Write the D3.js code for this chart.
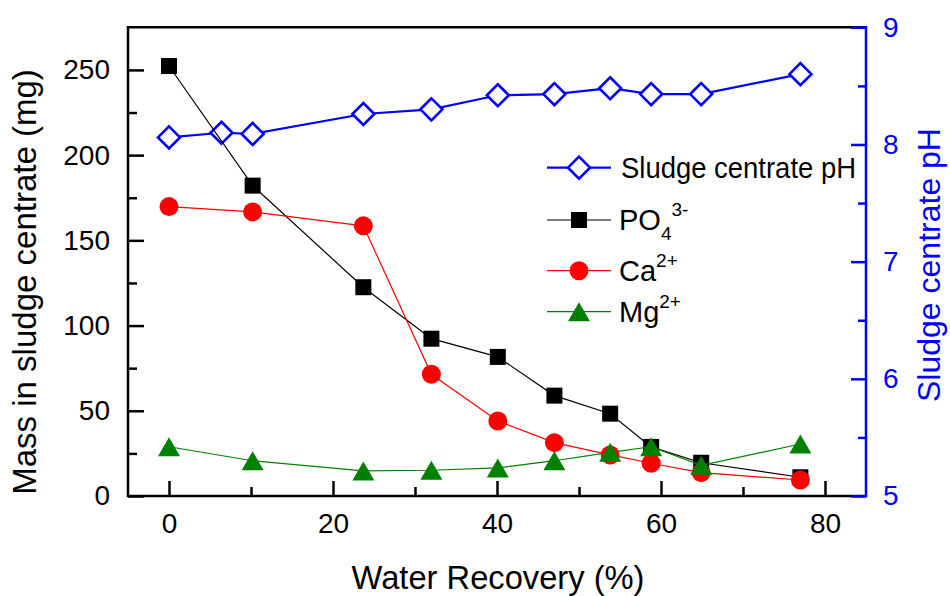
<!DOCTYPE html>
<html>
<head>
<meta charset="utf-8">
<script src="https://cdn.jsdelivr.net/npm/d3@7"></script>
<style>
  body { margin: 0; background: #fff; }
  svg text { font-family: "Liberation Sans", Arial, sans-serif; }
</style>
</head>
<body>
<svg width="950" height="596"></svg>
<script>
// water recovery (%) for the ion samples
var recovery = [0, 10.2, 23.7, 32.0, 40.1, 47.0, 53.8, 58.8, 64.9, 77.0];
var phosphate = [252.3, 182.1, 122.5, 92.3, 81.6, 58.9, 48.3, 28.8, 19.5, 11.0];
var calcium = [169.8, 166.7, 158.5, 71.4, 44.0, 31.3, 24.1, 19.2, 13.7, 9.4];
var magnesium = [28.9, 20.7, 14.7, 15.1, 16.5, 20.7, 25.6, 28.9, 18.0, 30.5];

// pH has one extra sample
var phRecovery = [0, 6.4, 10.2, 23.7, 32.0, 40.1, 47.0, 53.8, 58.8, 64.9, 77.0];
var phValues = [8.06, 8.10, 8.09, 8.26, 8.30, 8.42, 8.43, 8.48, 8.43, 8.43, 8.60];

var xTicks = [0, 20, 40, 60, 80],
  xMinor = [10, 30, 50, 70],
  yTicks = [0, 50, 100, 150, 200, 250],
  yMinor = [25, 75, 125, 175, 225],
  phTicks = [5, 6, 7, 8, 9],
  phMinor = [5.5, 6.5, 7.5, 8.5];

var svg = d3.select("svg"),
  pLeft = 128, pRight = 866, pTop = 27.3, pBottom = 496;

var x = d3.scaleLinear().domain([-5, 85]).range([pLeft, pRight]);
var y = d3.scaleLinear().domain([0, 275]).range([pBottom, pTop]);
var yPh = d3.scaleLinear().domain([5, 9]).range([pBottom, pTop]);

var BLUE = "#0000ff", RED = "#ff0000", GREEN = "#008000";

function marker(g, type, cx, cy) {
  if (type == "square") {
    g.append("rect").attr("x", cx - 8).attr("y", cy - 8)
      .attr("width", 16).attr("height", 16).attr("fill", "#000");
  } else if (type == "circle") {
    g.append("circle").attr("cx", cx).attr("cy", cy).attr("r", 9.5).attr("fill", RED);
  } else if (type == "triangle") {
    g.append("path")
      .attr("d", "M" + cx + "," + (cy - 9.5) + "L" + (cx + 11) + "," + (cy + 9.5) + "L" + (cx - 11) + "," + (cy + 9.5) + "Z")
      .attr("fill", GREEN);
  } else {
    g.append("path")
      .attr("d", "M" + cx + "," + (cy - 11) + "L" + (cx + 11) + "," + cy + "L" + cx + "," + (cy + 11) + "L" + (cx - 11) + "," + cy + "Z")
      .attr("fill", "#fff").attr("stroke", BLUE).attr("stroke-width", 2.6);
  }
}

function series(xs, ys, yScale, color, width, type) {
  var g = svg.append("g");
  var line = d3.line()
    .x(function(d, i) { return x(xs[i]); })
    .y(function(d) { return yScale(d); });
  g.append("path").datum(ys)
    .attr("d", line)
    .attr("fill", "none")
    .attr("stroke", color)
    .attr("stroke-width", width);
  ys.forEach(function(v, i) {
    marker(g, type, x(xs[i]), yScale(v));
  });
}

// axes
function styleAxis(g, color) {
  g.select(".domain").remove();
  g.selectAll("line").attr("stroke", color).attr("stroke-width", 2.5);
  g.selectAll("text").attr("fill", color).attr("font-size", 28);
}

var gx = svg.append("g").attr("transform", "translate(0," + pBottom + ")")
  .call(d3.axisBottom(x).tickValues(xTicks).tickSizeInner(-15).tickSizeOuter(0).tickPadding(17));
styleAxis(gx, "#000");
var gxm = svg.append("g").attr("transform", "translate(0," + pBottom + ")")
  .call(d3.axisBottom(x).tickValues(xMinor).tickSizeInner(-9).tickSizeOuter(0).tickFormat(""));
styleAxis(gxm, "#000");

var gy = svg.append("g").attr("transform", "translate(" + pLeft + ",0)")
  .call(d3.axisLeft(y).tickValues(yTicks).tickSizeInner(-16).tickSizeOuter(0).tickPadding(18));
styleAxis(gy, "#000");
var gym = svg.append("g").attr("transform", "translate(" + pLeft + ",0)")
  .call(d3.axisLeft(y).tickValues(yMinor).tickSizeInner(-9).tickSizeOuter(0).tickFormat(""));
styleAxis(gym, "#000");

// frame
svg.append("path")
  .attr("d", "M" + pLeft + "," + pTop + "H" + pRight + "M" + pLeft + "," + pBottom + "H" + pRight + "M" + pLeft + "," + (pTop - 1.2) + "V" + (pBottom + 1.2))
  .attr("stroke", "#000").attr("stroke-width", 2.5).attr("fill", "none");

var gr = svg.append("g").attr("transform", "translate(" + pRight + ",0)")
  .call(d3.axisRight(yPh).tickValues(phTicks).tickFormat(d3.format("d")).tickSizeInner(-15).tickSizeOuter(0).tickPadding(17));
styleAxis(gr, BLUE);
var grm = svg.append("g").attr("transform", "translate(" + pRight + ",0)")
  .call(d3.axisRight(yPh).tickValues(phMinor).tickSizeInner(-8).tickSizeOuter(0).tickFormat(""));
styleAxis(grm, BLUE);
svg.append("line").attr("x1", pRight).attr("x2", pRight)
  .attr("y1", pTop - 1.2).attr("y2", pBottom + 1.2)
  .attr("stroke", BLUE).attr("stroke-width", 2.5);

// data
series(phRecovery, phValues, yPh, BLUE, 2.2, "diamond");
series(recovery, phosphate, y, "#000", 1.2, "square");
series(recovery, calcium, y, RED, 1.2, "circle");
series(recovery, magnesium, y, GREEN, 1.2, "triangle");

// axis titles
svg.append("text")
  .attr("x", 498).attr("y", 589)
  .attr("text-anchor", "middle").attr("font-size", 33)
  .attr("textLength", 293).attr("lengthAdjust", "spacingAndGlyphs")
  .text("Water Recovery (%)");

svg.append("text")
  .attr("transform", "translate(36,282) rotate(-90)")
  .attr("text-anchor", "middle").attr("font-size", 33)
  .text("Mass in sludge centrate (mg)");

svg.append("text")
  .attr("transform", "translate(940,265) rotate(-90)")
  .attr("text-anchor", "middle").attr("font-size", 32)
  .attr("fill", BLUE)
  .text("Sludge centrate pH");

// legend
var legend = svg.append("g");
function legendRow(ly, color, width, type) {
  legend.append("line").attr("x1", 547).attr("x2", 611)
    .attr("y1", ly).attr("y2", ly)
    .attr("stroke", color).attr("stroke-width", width);
  marker(legend, type, 579, ly);
}
legendRow(167.7, BLUE, 2.2, "diamond");
legendRow(220, "#000", 1.2, "square");
legendRow(270.7, RED, 1.2, "circle");
legendRow(311.7, GREEN, 1.2, "triangle");

legend.append("text").attr("x", 621).attr("y", 178).attr("font-size", 29)
  .attr("textLength", 235).attr("lengthAdjust", "spacingAndGlyphs")
  .text("Sludge centrate pH");

var t1 = legend.append("text").attr("x", 619).attr("y", 230).attr("font-size", 29);
t1.append("tspan").text("PO");
t1.append("tspan").attr("font-size", 19).attr("dy", 10).text("4");
t1.append("tspan").attr("font-size", 19).attr("dy", -24).text("3-");

var t2 = legend.append("text").attr("x", 619).attr("y", 281).attr("font-size", 29);
t2.append("tspan").text("Ca");
t2.append("tspan").attr("font-size", 19).attr("dy", -14).text("2+");

var t3 = legend.append("text").attr("x", 619).attr("y", 322).attr("font-size", 29);
t3.append("tspan").text("Mg");
t3.append("tspan").attr("font-size", 19).attr("dy", -14).text("2+");
</script>
</body>
</html>
